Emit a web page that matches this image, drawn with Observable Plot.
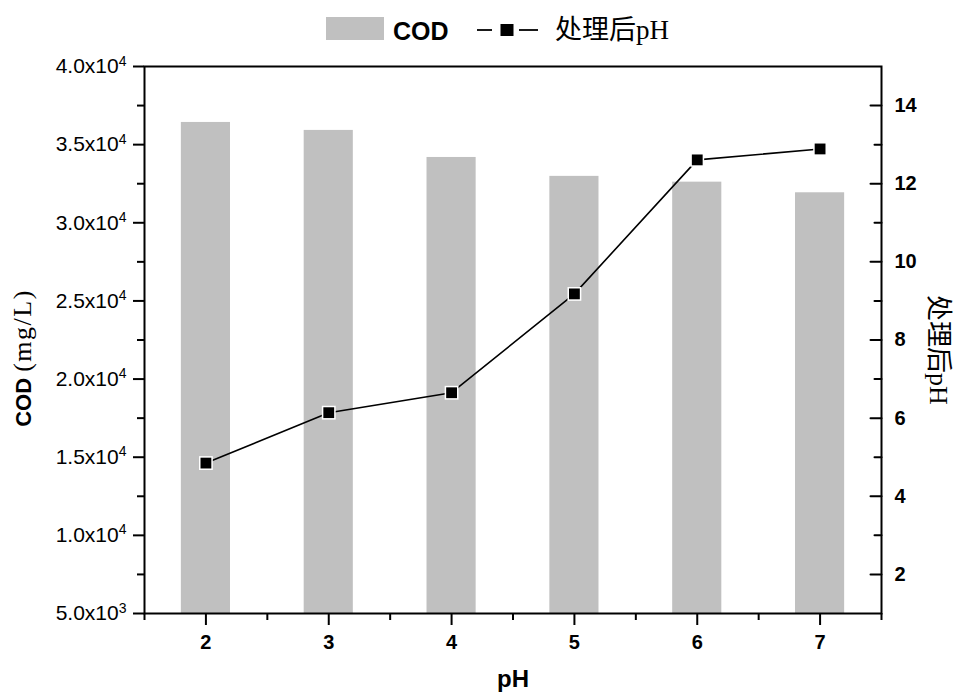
<!DOCTYPE html>
<html>
<head>
<meta charset="utf-8">
<script src="https://cdn.jsdelivr.net/npm/d3@7"></script>
<script src="https://cdn.jsdelivr.net/npm/@observablehq/plot@0.6"></script>
<style>
  body { margin: 0; background: #fff; }
  #wrap { position: relative; width: 958px; height: 697px; background: #fff; }
  #legend { position: relative; width: 958px; height: 48px; }
  #legend .sw { position: absolute; left: 326px; top: 17px; width: 58px; height: 23px; background: #c0c0c0; }
  #legend .t1 { position: absolute; left: 393px; top: 17px; line-height: 24px; font: bold 25px "Liberation Sans", Arial, sans-serif; }
  #legend .sym { position: absolute; left: 477px; top: 22px; }
  #legend .t2 { position: absolute; left: 555px; top: 13px; line-height: 30px; font-size: 27px; font-family: "Noto Sans CJK SC", sans-serif; }
  #legend .t2 .ph { font-family: "Liberation Serif", serif; }
  #chart svg { display: block; }
</style>
</head>
<body>
<div id="wrap">
  <div id="legend"></div>
  <div id="chart"></div>
</div>
<script>
// ---- data ----
const phInitial = [2, 3, 4, 5, 6, 7];
const codValues = [36420, 35910, 34180, 32970, 32600, 31920];
const phAfter   = [4.85, 6.14, 6.65, 9.18, 12.61, 12.89];
const codTicks  = [5000, 10000, 15000, 20000, 25000, 30000, 35000, 40000];
const codTickLabels = ["5.0x10|3", "1.0x10|4", "1.5x10|4", "2.0x10|4", "2.5x10|4", "3.0x10|4", "3.5x10|4", "4.0x10|4"];
const codMinor  = [7500, 12500, 17500, 22500, 27500, 32500, 37500];
const phTicks   = [2, 4, 6, 8, 10, 12, 14];
const phMinor   = [3, 5, 7, 9, 11, 13];
const xMinor    = [1.5, 2.5, 3.5, 4.5, 5.5, 6.5, 7.5];
const seriesNames = ["COD", "处理后pH"];
const axisTitles = { x: "pH", yLeft: ["COD ", "(mg/L)"], yRight: ["处理后", "pH"] };

// ---- legend ----
const legend = document.getElementById("legend");
legend.innerHTML = `
  <div class="sw"></div>
  <div class="t1">${seriesNames[0]}</div>
  <svg class="sym" width="62" height="16">
    <line x1="0" x2="15" y1="8" y2="8" stroke="#000" stroke-width="1.8"/>
    <rect x="23.5" y="2" width="13" height="12" fill="#000"/>
    <line x1="42" x2="61" y1="8" y2="8" stroke="#000" stroke-width="1.8"/>
  </svg>
  <div class="t2">${seriesNames[1].replace("pH", "")}<span class="ph">pH</span></div>`;

// ---- chart ----
const xDomain = [1.5, 7.5];
const phDomain = [1, 15];
const codDomain = [5000, 40000];
const phToCod = p => codDomain[0] + (p - phDomain[0]) * (codDomain[1] - codDomain[0]) / (phDomain[1] - phDomain[0]);
const data = phInitial.map((x, i) => ({ x, cod: codValues[i], ph: phAfter[i] }));
const codLabel = new Map(codTicks.map((t, i) => [t, codTickLabels[i]]));
const phLabel = new Map(phTicks.map(p => [phToCod(p), String(p)]));
const barHalf = 0.2;
const tickShape = { draw(context, l) { context.moveTo(0, 0); context.lineTo(0, -l); } };

const W = 958, H = 649;
const chart = Plot.plot({
  width: W,
  height: H,
  marginLeft: 144,
  marginRight: 77,
  marginTop: 18,
  marginBottom: 84,
  x: { domain: xDomain },
  y: { domain: codDomain },
  style: { fontFamily: "'Liberation Sans', Arial, sans-serif", fontSize: "20px", color: "#000", background: "#fff", overflow: "visible" },
  marks: [
    Plot.rectY(data, { x1: d => d.x - barHalf, x2: d => d.x + barHalf, y1: codDomain[0], y2: "cod", fill: "#c0c0c0" }),
    Plot.line(data, { x: "x", y: d => phToCod(d.ph), stroke: "#000", strokeWidth: 1.6 }),
    Plot.dot(data, { x: "x", y: d => phToCod(d.ph), symbol: "square", r: 7.8, fill: "#fff" }),
    Plot.dot(data, { x: "x", y: d => phToCod(d.ph), symbol: "square", r: 6.1, fill: "#000" }),
    Plot.frame({ stroke: "#000", strokeWidth: 2 }),
    // left axis
    Plot.axisY({ anchor: "left", ticks: codTicks, tickSize: 11, tickPadding: 7, strokeWidth: 2,
      tickFormat: d => codLabel.get(d), label: null, fontSize: 21 }),
    Plot.axisY({ anchor: "left", ticks: codMinor, tickSize: 7, strokeWidth: 2, tickFormat: () => "", label: null }),
    // right axis (pH): labels outside, ticks inward
    Plot.axisY({ anchor: "right", ticks: phTicks.map(phToCod), tickSize: 0, tickPadding: 13,
      tickFormat: d => phLabel.get(d), label: null, fontSize: 20, fontWeight: "bold" }),
    Plot.vector(phTicks, { x: xDomain[1], y: phToCod, length: 11, rotate: -90, anchor: "start", shape: tickShape, stroke: "#000", strokeWidth: 2 }),
    Plot.vector(phMinor, { x: xDomain[1], y: phToCod, length: 7, rotate: -90, anchor: "start", shape: tickShape, stroke: "#000", strokeWidth: 2 }),
    // x axis
    Plot.axisX({ ticks: phInitial, tickSize: 12, tickPadding: 9, strokeWidth: 2, tickFormat: d => String(d),
      label: null, fontSize: 20, fontWeight: "bold" }),
    Plot.axisX({ ticks: xMinor, tickSize: 7, strokeWidth: 2, tickFormat: () => "", label: null })
  ]
});
document.getElementById("chart").appendChild(chart);

// superscripts in left tick labels
const svg = d3.select(chart);
svg.selectAll("text").each(function () {
  const t = this.textContent;
  if (t.includes("|")) {
    const [base, exp] = t.split("|");
    const el = d3.select(this);
    el.text(null);
    el.append("tspan").text(base);
    el.append("tspan").attr("dy", "-0.55em").attr("font-size", "14px").text(exp);
  }
});

// axis titles
const left = svg.append("text")
  .attr("transform", "translate(24,310) rotate(-90)")
  .attr("text-anchor", "middle").attr("dy", "0.35em");
left.append("tspan").attr("font-size", 22).attr("font-weight", "bold").attr("font-family", "'Liberation Sans', Arial, sans-serif").text(axisTitles.yLeft[0]);
left.append("tspan").attr("font-size", 26).attr("letter-spacing", 1.5).attr("font-family", "'Liberation Serif', serif").text(axisTitles.yLeft[1]);

const right = svg.append("text")
  .attr("transform", "translate(939,302) rotate(90)")
  .attr("text-anchor", "middle").attr("dy", "0.35em")
  .attr("font-size", 26);
right.append("tspan").attr("font-family", "'Noto Sans CJK SC', sans-serif").text(axisTitles.yRight[0]);
right.append("tspan").attr("font-family", "'Liberation Serif', serif").text(axisTitles.yRight[1]);

svg.append("text")
  .attr("x", 513).attr("y", 639)
  .attr("text-anchor", "middle")
  .attr("font-size", 24).attr("font-weight", "bold")
  .attr("font-family", "'Liberation Sans', Arial, sans-serif")
  .text(axisTitles.x);
</script>
</body>
</html>
